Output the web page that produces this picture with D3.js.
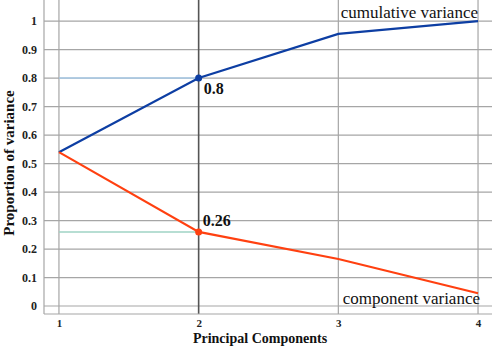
<!DOCTYPE html>
<html>
<head>
<meta charset="utf-8">
<script src="https://cdn.jsdelivr.net/npm/d3@7"></script>
<style>
  body { margin: 0; background: #fff; }
  svg text { font-family: "Liberation Serif", "DejaVu Serif", serif; }
</style>
</head>
<body>
<div id="chart"></div>
<script>
// data
let components = [1, 2, 3, 4];
let cumulativeVariance = [0.54, 0.80, 0.955, 1.0];
let componentVariance = [0.54, 0.26, 0.165, 0.045];
let yTicks = [0, 0.1, 0.2, 0.3, 0.4, 0.5, 0.6, 0.7, 0.8, 0.9, 1];
let markedComponent = 2;

let width = 498, height = 346;
let margin = {top: 0, right: 6, bottom: 32, left: 44};
let innerW = width - margin.left - margin.right;
let innerH = 314 - margin.top;

let svg = d3.select("#chart").append("svg")
    .attr("width", width)
    .attr("height", height);

let g = svg.append("g")
    .attr("transform", `translate(${margin.left}, ${margin.top})`);

// scales
let x = d3.scaleLinear().domain([0.893, 4.1]).range([0, innerW]);
let y = d3.scaleLinear().domain([-0.028, 1.074]).range([innerH, 0]);

// horizontal grid
g.selectAll(".hgrid")
    .data(yTicks)
    .enter().append("line")
    .attr("class", "hgrid")
    .attr("x1", 0).attr("x2", innerW)
    .attr("y1", d => y(d)).attr("y2", d => y(d))
    .attr("stroke", "#a6a6a6")
    .attr("stroke-width", 1.2);

// vertical grid
g.selectAll(".vgrid")
    .data(components)
    .enter().append("line")
    .attr("class", "vgrid")
    .attr("x1", d => x(d)).attr("x2", d => x(d))
    .attr("y1", 0).attr("y2", innerH)
    .attr("stroke", d => d === markedComponent ? "#555" : "#a6a6a6")
    .attr("stroke-width", d => d === markedComponent ? 1.6 : 1.2);

// axes lines
g.append("line")
    .attr("x1", 0).attr("x2", 0).attr("y1", 0).attr("y2", innerH)
    .attr("stroke", "#a6a6a6").attr("stroke-width", 1.2);
g.append("line")
    .attr("x1", 0).attr("x2", innerW).attr("y1", innerH).attr("y2", innerH)
    .attr("stroke", "#a6a6a6").attr("stroke-width", 1.2);

// y axis
let yAxis = d3.axisLeft(y).tickValues(yTicks).tickSize(0).tickPadding(7)
    .tickFormat(d => d3.format("~g")(d));
let yG = g.append("g").call(yAxis).attr("font-family", null);
yG.select(".domain").remove();
yG.selectAll("text")
    .attr("font-size", 12).attr("font-weight", "bold").attr("fill", "#222");

// x axis
let xAxis = d3.axisBottom(x).tickValues(components).tickSize(0).tickPadding(5)
    .tickFormat(d3.format("d"));
let xG = g.append("g").attr("transform", `translate(0, ${innerH})`).call(xAxis).attr("font-family", null);
xG.select(".domain").remove();
xG.selectAll("text")
    .attr("font-size", 11).attr("font-weight", "bold").attr("fill", "#222");

// reference lines at the marked component
let cumMark = cumulativeVariance[components.indexOf(markedComponent)];
let compMark = componentVariance[components.indexOf(markedComponent)];
g.append("line")
    .attr("x1", x(1)).attr("x2", x(markedComponent))
    .attr("y1", y(cumMark)).attr("y2", y(cumMark))
    .attr("stroke", "#a9cbe9").attr("stroke-width", 1.5);
g.append("line")
    .attr("x1", x(1)).attr("x2", x(markedComponent))
    .attr("y1", y(compMark)).attr("y2", y(compMark))
    .attr("stroke", "#9fd3c4").attr("stroke-width", 1.5);

// series lines
let line = d3.line().x(d => x(d[0])).y(d => y(d[1]));
g.append("path")
    .datum(components.map((c, i) => [c, cumulativeVariance[i]]))
    .attr("d", line)
    .attr("fill", "none")
    .attr("stroke", "#0d3ea3")
    .attr("stroke-width", 2.2);
g.append("path")
    .datum(components.map((c, i) => [c, componentVariance[i]]))
    .attr("d", line)
    .attr("fill", "none")
    .attr("stroke", "#ff4010")
    .attr("stroke-width", 2.2);

// marked points
g.append("circle")
    .attr("cx", x(markedComponent)).attr("cy", y(cumMark)).attr("r", 3.5)
    .attr("fill", "#0d3ea3");
g.append("circle")
    .attr("cx", x(markedComponent)).attr("cy", y(compMark)).attr("r", 3.5)
    .attr("fill", "#ff4010");

g.append("text")
    .attr("x", x(markedComponent) + 5).attr("y", y(cumMark) + 16)
    .attr("font-size", 16).attr("font-weight", "bold").attr("fill", "#111")
    .text(d3.format("~g")(cumMark));
g.append("text")
    .attr("x", x(markedComponent) + 4).attr("y", y(compMark) - 6)
    .attr("font-size", 16).attr("font-weight", "bold").attr("fill", "#111")
    .text(d3.format("~g")(compMark));

// series labels
g.append("text")
    .attr("x", x(4)).attr("y", 18)
    .attr("text-anchor", "end")
    .attr("font-size", 17).attr("fill", "#111")
    .text("cumulative variance");
g.append("text")
    .attr("x", x(4) + 2).attr("y", 304)
    .attr("text-anchor", "end")
    .attr("font-size", 17).attr("fill", "#111")
    .text("component variance");

// axis titles
svg.append("text")
    .attr("transform", `translate(14, ${innerH / 2 + 6}) rotate(-90)`)
    .attr("text-anchor", "middle")
    .attr("font-size", 15).attr("font-weight", "bold").attr("fill", "#111")
    .text("Proportion of variance");
svg.append("text")
    .attr("x", 260).attr("y", 343)
    .attr("text-anchor", "middle")
    .attr("font-size", 14).attr("font-weight", "bold").attr("fill", "#111")
    .text("Principal Components");
</script>
</body>
</html>
